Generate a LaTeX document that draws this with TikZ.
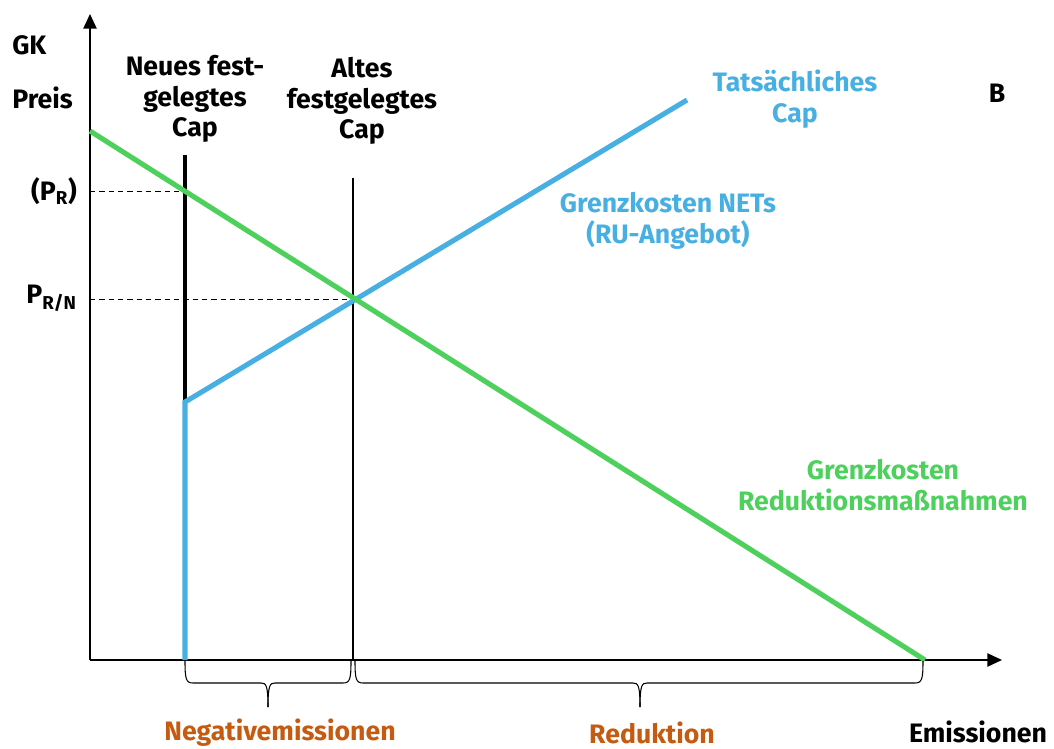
\documentclass[tikz,border=0pt]{standalone}
\usepackage{fontspec}
\setmainfont{Fira Sans}
\usetikzlibrary{arrows.meta}
\definecolor{cgreen}{RGB}{77,208,92}
\definecolor{cblue}{RGB}{72,175,226}
\definecolor{corange}{RGB}{197,90,17}
\tikzset{
  lbl/.style={font=\bfseries\fontsize{20}{23}\selectfont, inner sep=0pt, align=center},
  axis/.style={line width=1.1pt, -{Triangle[length=11pt,width=10pt]}},
  greenline/.style={cgreen, line width=3.8pt},
  blueline/.style={cblue, line width=3.8pt},
  guide/.style={dashed, line width=0.7pt, dash pattern=on 4pt off 3pt},
  bracepath/.style={line width=0.8pt},
}
\begin{document}
\begin{tikzpicture}[x=0.75pt,y=-0.75pt]
\useasboundingbox (0,0) rectangle (1054,749);
% coordinates
\coordinate (O) at (90,660);
\coordinate (ytop) at (90,14);
\coordinate (xend) at (1002,660);
\coordinate (g1) at (90,131);
\coordinate (g2) at (925,660);
\coordinate (nTop) at (185,155);
\coordinate (nBot) at (185,402);
\coordinate (nAx) at (185,660);
\coordinate (bEnd) at (687,100);
\coordinate (aTop) at (353,178);
\coordinate (aAx) at (353,660);
\coordinate (pr) at (90,191);
\coordinate (prX) at (185,191);
\coordinate (prn) at (90,299);
\coordinate (prnX) at (353,299);
% axes
\draw[axis] (O) -- (ytop);
\draw[axis] (O) -- (xend);
% dashed guides
\draw[guide] (pr) -- (prX);
\draw[guide] (prn) -- (prnX);
% altes cap
\draw[line width=0.8pt] (aTop) -- (aAx);
% neues cap
\draw[line width=2.4pt] (nTop) -- (nBot);
% blue supply
\draw[blueline, line join=miter] (nAx) -- (nBot) -- (bEnd);
% green
\draw[greenline] (g1) -- (g2);
% braces
\draw[bracepath] (185,661) .. controls (185,679) and (186,683) .. (193,683) -- (261,683) .. controls (266,683) and (268,685) .. (268,707);
\draw[bracepath] (351,661) .. controls (351,679) and (350,683) .. (343,683) -- (275,683) .. controls (270,683) and (268,685) .. (268,707);
\draw[bracepath] (355,661) .. controls (355,679) and (356,683) .. (363,683) -- (633,683) .. controls (638,683) and (640,685) .. (640,707);
\draw[bracepath] (923,661) .. controls (923,679) and (922,683) .. (915,683) -- (647,683) .. controls (642,683) and (640,685) .. (640,707);
% labels
\node[lbl, anchor=west] (gk) at (12,45) {GK};
\node[lbl, anchor=west] (preis) at (12,98) {Preis};
\node[lbl, anchor=east] (lpr) at (77,191) {(P\textsubscript{R})};
\node[lbl, anchor=east] (lprn) at (77,298) {P\textsubscript{R/N}};
\node[lbl] (neu) at (195,99) {Neues fest-\\gelegtes\\Cap};
\node[lbl] (alt) at (362,101) {Altes\\festgelegtes\\Cap};
\node[lbl, text=cblue] (tat) at (795,99) {Tatsächliches\\Cap};
\node[lbl] (b) at (997,93) {B};
\node[lbl, text=cblue] (nets) at (668,221) {Grenzkosten NETs\\(RU-Angebot)};
\node[lbl, text=cgreen] (red) at (883,485) {Grenzkosten\\Reduktionsmaßnahmen};
\node[lbl, text=corange] (neg) at (280,733) {Negativemissionen};
\node[lbl, text=corange] (redk) at (652,733) {Reduktion};
\node[lbl] (em) at (978,732) {Emissionen};
\end{tikzpicture}
\end{document}
